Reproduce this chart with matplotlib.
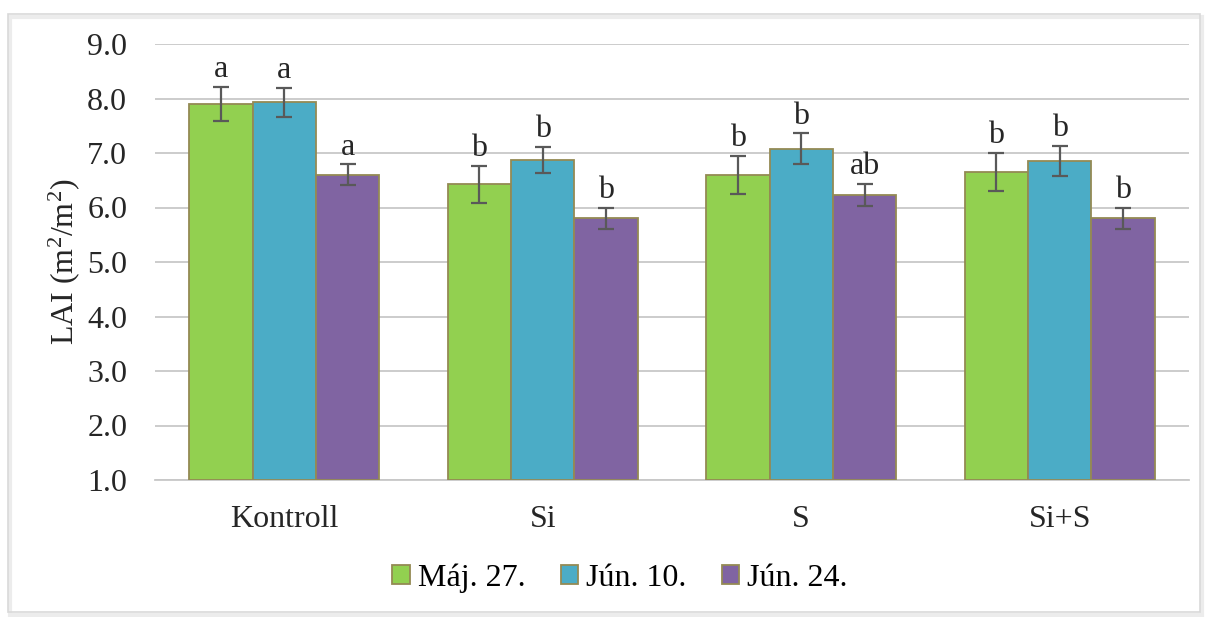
import matplotlib
matplotlib.use("Agg")
import matplotlib.pyplot as plt
from matplotlib.patches import Rectangle, Patch
import numpy as np

categories = ["Kontroll", "Si", "S", "Si+S"]
series = ["Máj. 27.", "Jún. 10.", "Jún. 24."]
values = [
    [7.90, 6.43, 6.60, 6.65],
    [7.93, 6.87, 7.08, 6.85],
    [6.60, 5.80, 6.23, 5.80],
]
errors = [
    [0.32, 0.34, 0.35, 0.35],
    [0.27, 0.24, 0.28, 0.28],
    [0.19, 0.20, 0.20, 0.20],
]
letters = [
    ["a", "b", "b", "b"],
    ["a", "b", "b", "b"],
    ["a", "b", "ab", "b"],
]
colors = ["#92d050", "#4bacc6", "#8064a2"]
edge = "#948a54"

plt.rcParams["font.family"] = ["Liberation Serif", "DejaVu Serif"]
plt.rcParams["mathtext.fontset"] = "custom"
plt.rcParams["mathtext.rm"] = "Liberation Serif"
plt.rcParams["mathtext.it"] = "Liberation Serif:italic"
plt.rcParams["mathtext.bf"] = "Liberation Serif:bold"

fs = 23
fig = plt.figure(figsize=(12.07, 6.17), dpi=100)
# soft shadow + frame
fig.patches.append(Rectangle((10/1207, 1 - 615/617), 1192/1207, 598/617, transform=fig.transFigure,
                             fill=False, edgecolor="#ececec", linewidth=3))
fig.patches.append(Rectangle((8/1207, 1 - 612/617), 1192/1207, 598/617, transform=fig.transFigure,
                             fill=False, edgecolor="#d9d9d9", linewidth=1.2))
ax = fig.add_axes([155/1207, 1 - 480/617, (1189-155)/1207, (480-44)/617])

x = np.arange(len(categories))
w = 0.245
for i, (vals, errs, c) in enumerate(zip(values, errors, colors)):
    pos = x + (i - 1) * w
    ax.bar(pos, np.array(vals) - 1.0, bottom=1.0, width=w, color=c, edgecolor=edge, linewidth=1.3,
           label=series[i], zorder=3)
    ax.errorbar(pos, vals, yerr=errs, fmt="none", ecolor="#595959", elinewidth=1.6, capsize=6,
                capthick=1.6, zorder=4)
    for p, v, e, t in zip(pos, vals, errs, letters[i]):
        ax.text(p, v + e + 0.05, t, ha="center", va="bottom", fontsize=fs, color="#262626", zorder=5)

ax.set_xlim(-0.5, 3.5)
ax.set_ylim(1.0, 9.0)
ax.set_yticks(np.arange(1, 10, 1))
ax.set_yticklabels([f"{v:.1f}" for v in np.arange(1, 10, 1)], fontsize=fs, color="#262626")
ax.set_xticks(x)
ax.set_xticklabels(categories, fontsize=fs, color="#262626")
ax.tick_params(axis="y", length=0, pad=20)
ax.tick_params(axis="x", length=0, pad=18)
ax.yaxis.grid(True, color="#c8c8c8", linewidth=1.3, zorder=0)
ax.set_axisbelow(True)
for s in ["left", "right", "top"]:
    ax.spines[s].set_visible(False)
ax.spines["bottom"].set_color("#c8c8c8")
ax.spines["bottom"].set_linewidth(1.3)
ax.set_ylabel("LAI (m$^2$/m$^2$)", fontsize=fs, color="#262626", labelpad=4)

handles = [Patch(facecolor=c, edgecolor=edge, linewidth=1.3) for c in colors]
fig.legend(handles, series, loc="center", bbox_to_anchor=(620/1207, 1 - 578/617), ncol=3,
           frameon=False, fontsize=fs, handlelength=0.55, handleheight=0.55, handletextpad=0.25,
           columnspacing=1.1)

fig.savefig("out.png", dpi=100)
